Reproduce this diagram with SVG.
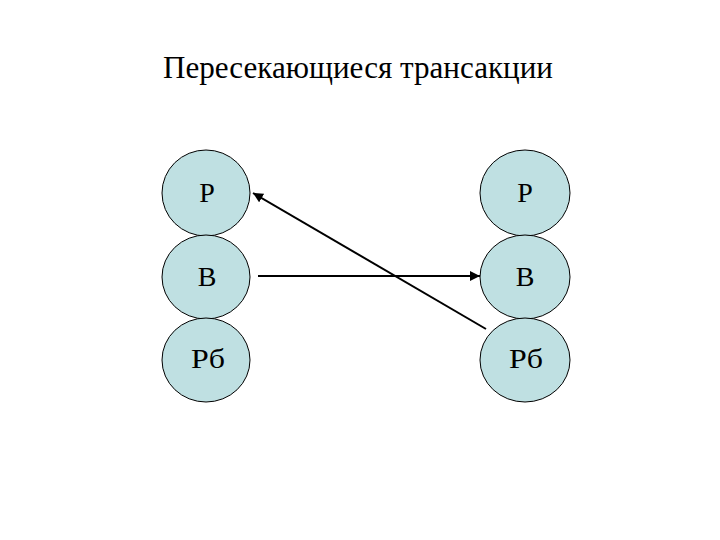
<svg xmlns="http://www.w3.org/2000/svg" width="720" height="540" viewBox="0 0 720 540">
<style>
.n ellipse{fill:#bfe0e2;stroke:#000;stroke-width:1}
.n text,.t{font-family:"Liberation Serif","Times New Roman","DejaVu Serif",serif;fill:#000}
.n text{font-size:28px;text-anchor:middle}
.t{font-size:31px}
.c line{stroke:#000;stroke-width:2}
</style>
<defs>
<marker id="a" viewBox="0 0 10 10" refX="10" refY="5" markerWidth="5" markerHeight="5" orient="auto" markerUnits="strokeWidth">
<path d="M0,0 L10,5 L0,10 z" fill="#000"/>
</marker>
</defs>
<rect width="720" height="540" fill="#fff"/>
<text class="t" x="163" y="78" textLength="390" lengthAdjust="spacingAndGlyphs">Пересекающиеся трансакции</text>
<g id="l1" class="n"><ellipse cx="206" cy="193" rx="44" ry="43"/><text x="207" y="202">Р</text></g>
<g id="l2" class="n"><ellipse cx="206" cy="277" rx="44" ry="42"/><text x="207" y="286">В</text></g>
<g id="l3" class="n"><ellipse cx="206" cy="360" rx="44" ry="42"/><text x="208" y="368" textLength="34" lengthAdjust="spacingAndGlyphs">Рб</text></g>
<g id="r1" class="n"><ellipse cx="525" cy="193" rx="45" ry="43"/><text x="525" y="202">Р</text></g>
<g id="r2" class="n"><ellipse cx="525" cy="277" rx="45" ry="42"/><text x="525" y="286">В</text></g>
<g id="r3" class="n"><ellipse cx="525" cy="360" rx="45" ry="42"/><text x="526" y="368" textLength="34" lengthAdjust="spacingAndGlyphs">Рб</text></g>
<g id="connectors" class="c">
<line x1="258" y1="276" x2="480" y2="276" marker-end="url(#a)"/>
<line x1="486" y1="329" x2="253" y2="193" marker-end="url(#a)"/>
</g>
</svg>
